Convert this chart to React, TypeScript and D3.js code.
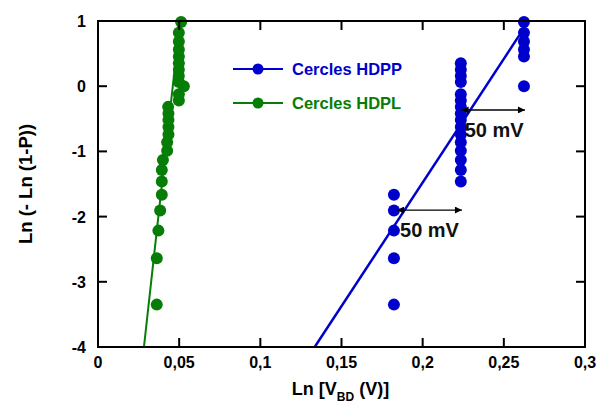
import React from "react";
import * as d3 from "d3";

// ---- data ----
const xTicks = [0, 0.05, 0.1, 0.15, 0.2, 0.25, 0.3];
const xTickLabels = ["0", "0,05", "0,1", "0,15", "0,2", "0,25", "0,3"];
const yTicks = [1, 0, -1, -2, -3, -4];
const yTickLabels = ["1", "0", "-1", "-2", "-3", "-4"];

const hdppX = [
  0.1823, 0.1823, 0.1823, 0.1823, 0.1823,
  0.2235, 0.2235, 0.2235, 0.2235, 0.2235, 0.2235, 0.2235, 0.2235, 0.2235, 0.2235, 0.2235, 0.2235,
  0.2624, 0.2235, 0.2235, 0.2235, 0.2235,
  0.2624, 0.2624, 0.2624, 0.2624, 0.2624,
];
const hdppY = [
  -3.35, -2.639, -2.215, -1.908, -1.665,
  -1.462, -1.286, -1.131, -0.99, -0.861, -0.74, -0.627, -0.52, -0.417, -0.317, -0.22, -0.125,
  0.0, 0.063, 0.157, 0.253, 0.352,
  0.455, 0.564, 0.684, 0.819, 0.984,
];

const hdplX = [
  0.0362, 0.0362, 0.0372, 0.0383, 0.0393, 0.0393, 0.0393, 0.04,
  0.0426, 0.0426, 0.0434, 0.0434, 0.0434, 0.0434, 0.0432,
  0.0498, 0.0498, 0.0529, 0.0498, 0.0498, 0.0498, 0.0498, 0.0498, 0.0498, 0.0498, 0.0498, 0.0512,
];
const hdplY = [
  -3.35, -2.639, -2.215, -1.908, -1.665, -1.462, -1.286, -1.131,
  -0.99, -0.861, -0.74, -0.627, -0.52, -0.417, -0.317,
  -0.22, -0.125, 0.0, 0.063, 0.157, 0.253, 0.352, 0.455, 0.564, 0.684, 0.819, 0.984,
];

const hdppFitX = [0.1335, 0.2595];
const hdppFitY = [-4, 0.78];
const hdplFitX = [0.0283, 0.0505];
const hdplFitY = [-4, 1];

const seriesNames = ["Cercles HDPP", "Cercles HDPL"];
const annotX1 = [0.224, 0.1842];
const annotX2 = [0.263, 0.2242];
const annotY = [-0.365, -1.9];
const annotLabel = ["50 mV", "50 mV"];

const BLUE = "#0000cc";
const GREEN = "#067d06";
const FONT = "Arial, 'Liberation Sans', sans-serif";

export default function App() {
  const W = 600, H = 409;
  const L = 98, R = 585, T = 21, B = 347;
  const x = d3.scaleLinear().domain([0, 0.3]).range([L, R]);
  const y = d3.scaleLinear().domain([-4, 1]).range([B, T]);
  const line = d3.line<[number, number]>().x((d) => x(d[0])).y((d) => y(d[1]));

  const blueFit = hdppFitX.map((v, i) => [v, hdppFitY[i]] as [number, number]);
  const greenFit = hdplFitX.map((v, i) => [v, hdplFitY[i]] as [number, number]);
  const tickLen = 9;

  return (
    <svg width={W} height={H} style={{ position: "absolute", left: 0, top: 0, background: "#fff" }} fontFamily={FONT}>
      <defs>
        <clipPath id="plot">
          <rect x={L} y={T - 7} width={R - L} height={B - T + 7} />
        </clipPath>
        <marker id="ah" viewBox="0 0 10 10" refX="10" refY="5" markerWidth="10" markerHeight="7" orient="auto-start-reverse" markerUnits="userSpaceOnUse">
          <path d="M0,0 L10,5 L0,10 z" fill="#000" />
        </marker>
      </defs>

      {/* fits */}
      <g clipPath="url(#plot)">
        <path d={line(greenFit) || ""} stroke={GREEN} strokeWidth={2} fill="none" />
        <path d={line(blueFit) || ""} stroke={BLUE} strokeWidth={2.5} fill="none" />
      </g>

      {/* points */}
      <g>
        {hdplX.map((v, i) => (
          <circle key={"g" + i} cx={x(v)} cy={y(hdplY[i])} r={6} fill={GREEN} />
        ))}
        {hdppX.map((v, i) => (
          <circle key={"b" + i} cx={x(v)} cy={y(hdppY[i])} r={6} fill={BLUE} />
        ))}
      </g>

      {/* annotations */}
      {annotLabel.map((lab, i) => (
        <g key={"a" + i}>
          <line x1={x(annotX1[i])} x2={x(annotX2[i])} y1={y(annotY[i])} y2={y(annotY[i])} stroke="#000" strokeWidth={1.3}
            markerStart="url(#ah)" markerEnd="url(#ah)" />
          <text x={x(annotX1[i]) + 3} y={y(annotY[i]) + 27} fontSize={20} fontWeight="bold" fill="#111">{lab}</text>
        </g>
      ))}

      {/* frame */}
      <rect x={L} y={T} width={R - L} height={B - T} fill="none" stroke="#000" strokeWidth={2} />

      {/* ticks */}
      {xTicks.map((t, i) => (
        <g key={"xt" + i}>
          <line x1={x(t)} x2={x(t)} y1={B} y2={B - tickLen} stroke="#000" strokeWidth={2} />
          <line x1={x(t)} x2={x(t)} y1={T} y2={T + tickLen} stroke="#000" strokeWidth={2} />
          <text x={x(t)} y={B + 21} textAnchor="middle" fontSize={16} fontWeight="bold">{xTickLabels[i]}</text>
        </g>
      ))}
      {yTicks.map((t, i) => (
        <g key={"yt" + i}>
          <line x1={L} x2={L + tickLen} y1={y(t)} y2={y(t)} stroke="#000" strokeWidth={2} />
          <line x1={R} x2={R - tickLen} y1={y(t)} y2={y(t)} stroke="#000" strokeWidth={2} />
          <text x={86} y={y(t) + 6} textAnchor="end" fontSize={16} fontWeight="bold">{yTickLabels[i]}</text>
        </g>
      ))}

      {/* axis titles */}
      <text x={(L + R) / 2 - 1} y={395} textAnchor="middle" fontSize={18} fontWeight="bold">
        Ln [V<tspan fontSize={12} dy={6}>BD</tspan><tspan dy={-6}> (V)]</tspan>
      </text>
      <text transform={`translate(32,${(T + B) / 2}) rotate(-90)`} textAnchor="middle" fontSize={18.5} fontWeight="bold">
        Ln (- Ln (1-P))
      </text>

      {/* legend */}
      {seriesNames.map((name, i) => {
        const c = i === 0 ? BLUE : GREEN;
        const ly = 69 + i * 34;
        return (
          <g key={"l" + i}>
            <line x1={233} x2={283} y1={ly} y2={ly} stroke={c} strokeWidth={2} />
            <circle cx={258} cy={ly} r={5.5} fill={c} />
            <text x={292} y={ly + 6} fontSize={16.5} fontWeight="bold" fill={c}>{name}</text>
          </g>
        );
      })}
    </svg>
  );
}
